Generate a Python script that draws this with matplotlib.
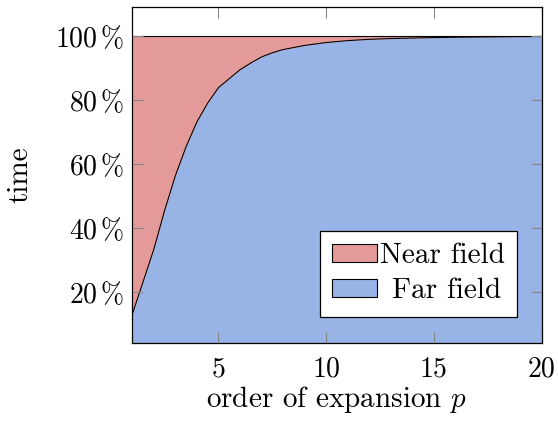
import matplotlib
matplotlib.use("Agg")
import matplotlib.pyplot as plt
from matplotlib.patches import Patch
from matplotlib.ticker import FuncFormatter

# order of expansion p and share of run time spent in the far field (%)
p_order = [1, 1.5, 2, 2.5, 3, 3.5, 4, 4.5, 5, 5.5, 6, 6.5, 7, 7.5, 8,
           9, 10, 11, 12, 13, 14, 15, 16, 17, 18, 19, 20]
far_field = [13.2, 23.3, 33.5, 45.6, 56.5, 65.6, 73.3, 79.2, 84.0, 86.8,
             89.6, 91.7, 93.6, 94.9, 95.9, 97.2, 98.1, 98.7, 99.1, 99.35,
             99.5, 99.65, 99.75, 99.82, 99.88, 99.94, 100.0]
total = [100.0] * len(p_order)

x_ticks = [5, 10, 15, 20]
y_ticks = [20, 40, 60, 80, 100]

NEAR_COLOR = "#E59A9A"
FAR_COLOR = "#98B3E6"

plt.rcParams["font.family"] = ["cmr10", "DejaVu Serif"]
plt.rcParams["mathtext.fontset"] = "cm"
plt.rcParams["axes.unicode_minus"] = False
plt.rcParams["font.size"] = 20

fig = plt.figure(figsize=(5.58, 4.21), dpi=100)
ax = fig.add_axes([132.3 / 558, 1 - 343.3 / 421, (541.7 - 132.3) / 558, (343.3 - 6.7) / 421])

# stacked areas
ax.fill_between(p_order, 0, far_field, color=FAR_COLOR, linewidth=0, zorder=1)
ax.fill_between(p_order, far_field, total, color=NEAR_COLOR, linewidth=0, zorder=1)
ax.plot(p_order, far_field, color="black", linewidth=0.8, zorder=2)
ax.plot(p_order, total, color="black", linewidth=0.8, zorder=2)

ax.set_xlim(1, 20)
ax.set_ylim(4.1, 109.3)
ax.set_xticks(x_ticks)
ax.set_yticks(y_ticks)
ax.yaxis.set_major_formatter(FuncFormatter(lambda v, _: r"$%d\,\%%$" % v))
ax.tick_params(direction="in", length=8, width=0.8, color="#888888",
               top=True, right=True, labelsize=20, pad=6)
ax.tick_params(axis="x", pad=9)
ax.set_axisbelow(False)
for s in ax.spines.values():
    s.set_linewidth(0.9)
    s.set_zorder(4)

ax.set_xlabel(r"order of expansion $p$", fontsize=21, labelpad=1)
ax.set_ylabel("time", fontsize=21, labelpad=15)

handles = [Patch(facecolor=NEAR_COLOR, edgecolor="black", linewidth=0.8),
           Patch(facecolor=FAR_COLOR, edgecolor="black", linewidth=0.8)]
leg = ax.legend(handles, ["Near field", "Far field"], loc="lower right",
                bbox_to_anchor=(0.940, 0.079), borderaxespad=0, fontsize=21,
                handlelength=1.55, handleheight=0.55, handletextpad=0.1,
                labelspacing=0.3, borderpad=0.42, fancybox=False, framealpha=1)
leg.get_frame().set_edgecolor("black")
leg.get_frame().set_linewidth(0.9)
leg.set_zorder(5)
leg.get_texts()[1].set_position((12, 0))

fig.savefig("out.png", dpi=100)
